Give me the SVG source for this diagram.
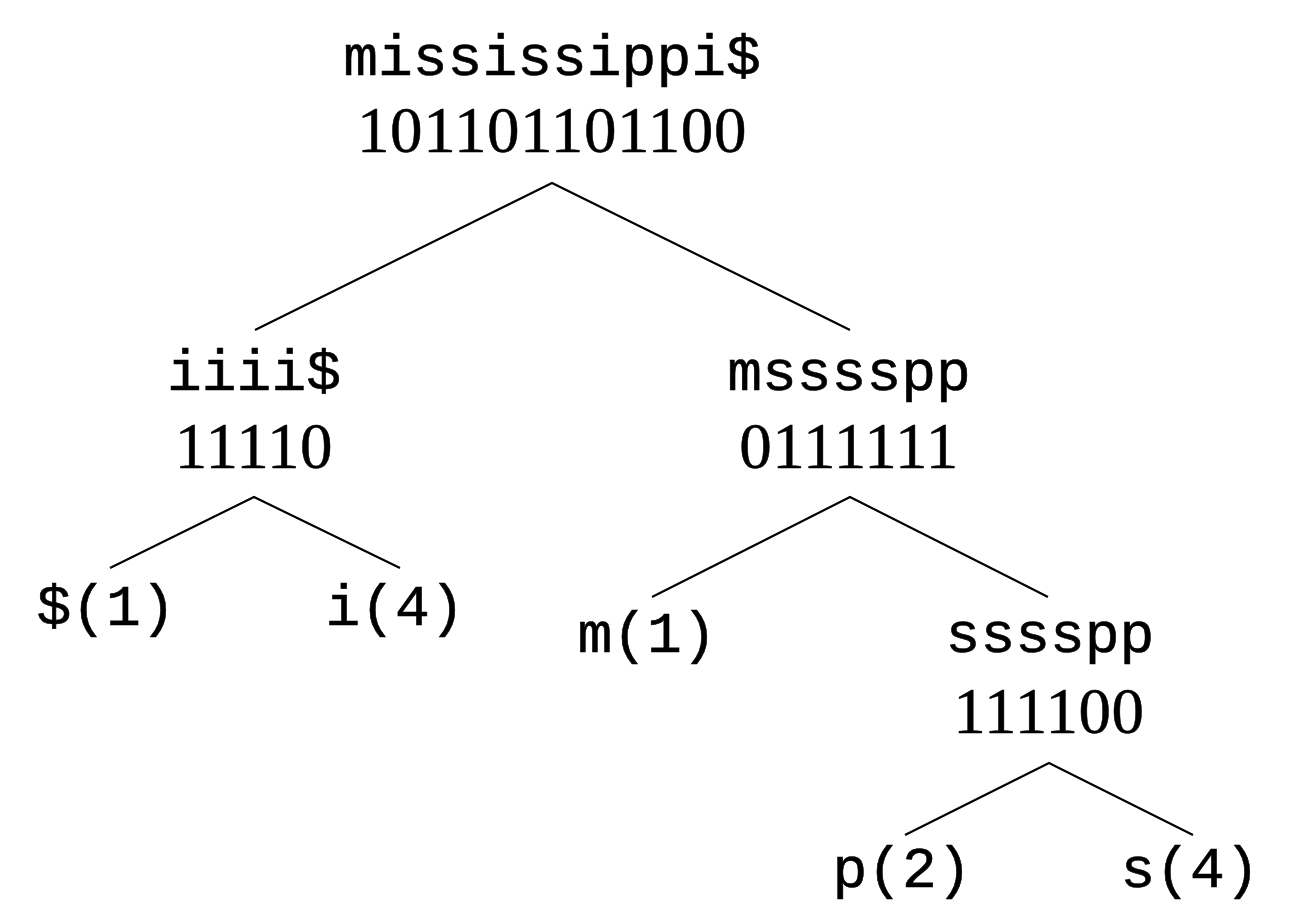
<svg xmlns="http://www.w3.org/2000/svg" width="1292" height="914" viewBox="0 0 1292 914">
<style>
.tt{font-family:"Liberation Mono","DejaVu Sans Mono",monospace;font-size:58px;fill:#000;stroke:#000;stroke-width:0.6;text-anchor:middle}
.rm{font-family:"Liberation Serif","DejaVu Serif",serif;font-size:65px;fill:#000;stroke:#000;stroke-width:0.5;letter-spacing:0.6px;text-anchor:middle}
.edge{stroke:#000;stroke-width:2.2;fill:none}
</style>
<rect width="1292" height="914" fill="#fff"/>
<g id="connectors">
<path class="edge" d="M255,330 L552,183 L850,330"/>
<path class="edge" d="M110,568 L254,497 L400,568"/>
<path class="edge" d="M652,597 L850,497 L1048,597"/>
<path class="edge" d="M905,835 L1049,763 L1193,835"/>
</g>
<g id="root"><text class="tt" x="552" y="75">mississippi$</text><text class="rm" x="552" y="152">101101101100</text></g>
<g id="n-iiii"><text class="tt" x="254" y="390">iiii$</text><text class="rm" x="254" y="468">11110</text></g>
<g id="n-msssspp"><text class="tt" x="849" y="390">msssspp</text><text class="rm" x="849" y="468">0111111</text></g>
<g id="leaf-dollar"><text class="tt" x="106" y="625">$(1)</text></g>
<g id="leaf-i"><text class="tt" x="395" y="625">i(4)</text></g>
<g id="leaf-m"><text class="tt" x="647" y="652">m(1)</text></g>
<g id="n-sssspp"><text class="tt" x="1050" y="652">sssspp</text><text class="rm" x="1049" y="733">111100</text></g>
<g id="leaf-p"><text class="tt" x="902" y="887">p(2)</text></g>
<g id="leaf-s"><text class="tt" x="1190" y="887">s(4)</text></g>
</svg>
